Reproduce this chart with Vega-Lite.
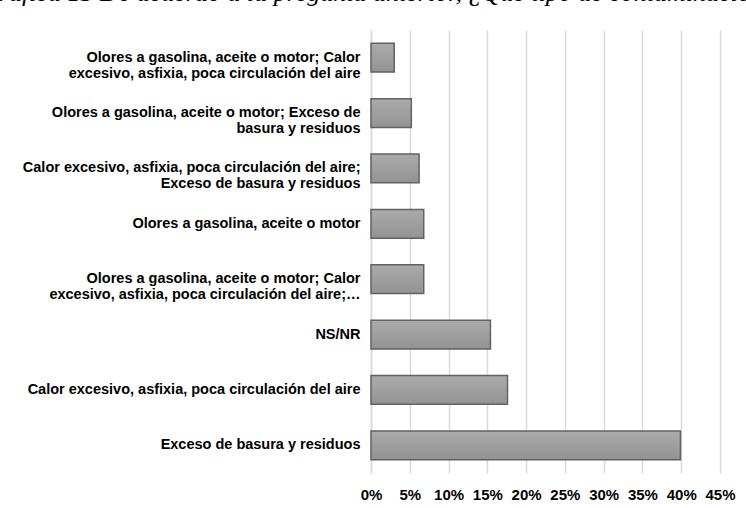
{
  "$schema": "https://vega.github.io/schema/vega-lite/v6.json",
  "autosize": {"type": "none"},
  "width": 349,
  "height": 443,
  "padding": {"left": 371, "top": 30, "right": 26, "bottom": 35},
  "background": "white",
  "title": {
    "text": "Gráfica 13 De acuerdo a la pregunta anterior, ¿Qué tipo de contaminación",
    "font": "Liberation Serif",
    "fontStyle": "italic",
    "fontWeight": "normal",
    "fontSize": 26,
    "color": "black",
    "anchor": "start",
    "frame": "group",
    "orient": "top",
    "baseline": "alphabetic",
    "offset": 3,
    "dx": -391,
    "dy": 0
  },
  "data": {
    "values": [
      {"tipo": "Olores a gasolina, aceite o motor; Calor\nexcesivo, asfixia, poca circulación del aire", "pct": 0.030},
      {"tipo": "Olores a gasolina, aceite o motor; Exceso de\nbasura y residuos", "pct": 0.052},
      {"tipo": "Calor excesivo, asfixia, poca circulación del aire;\nExceso de basura y residuos", "pct": 0.062},
      {"tipo": "Olores a gasolina, aceite o motor", "pct": 0.068},
      {"tipo": "Olores a gasolina, aceite o motor; Calor\nexcesivo, asfixia, poca circulación del aire;…", "pct": 0.068},
      {"tipo": "NS/NR", "pct": 0.154},
      {"tipo": "Calor excesivo, asfixia, poca circulación del aire", "pct": 0.176},
      {"tipo": "Exceso de basura y residuos", "pct": 0.399}
    ]
  },
  "mark": {
    "type": "bar",
    "color": {
      "gradient": "linear",
      "x1": 0, "y1": 0, "x2": 0, "y2": 1,
      "stops": [
        {"offset": 0, "color": "#ababab"},
        {"offset": 1, "color": "#939393"}
      ]
    },
    "stroke": "#626262",
    "strokeWidth": 1.5
  },
  "encoding": {
    "y": {
      "field": "tipo",
      "type": "nominal",
      "sort": null,
      "scale": {"paddingInner": 0.48, "paddingOuter": 0.24},
      "axis": {
        "title": null,
        "labelExpr": "split(datum.label, '\\n')",
        "labelFont": "Liberation Sans",
        "labelFontWeight": "bold",
        "labelFontSize": 14.5,
        "labelLineHeight": 16,
        "labelColor": "black",
        "labelLimit": 0,
        "labelPadding": 11,
        "ticks": false,
        "domain": true,
        "domainColor": "#d9d9d9",
        "domainWidth": 1.5,
        "grid": false
      }
    },
    "x": {
      "field": "pct",
      "type": "quantitative",
      "scale": {"domain": [0, 0.45], "nice": false},
      "axis": {
        "title": null,
        "values": [0, 0.05, 0.1, 0.15, 0.2, 0.25, 0.3, 0.35, 0.4, 0.45],
        "format": ".0%",
        "labelFont": "Liberation Sans",
        "labelFontWeight": "bold",
        "labelFontSize": 15,
        "labelColor": "black",
        "labelPadding": 14,
        "labelFlush": false,
        "ticks": false,
        "domain": false,
        "grid": true,
        "gridColor": "#d9d9d9",
        "gridWidth": 1.5
      }
    }
  },
  "config": {"view": {"stroke": null}}
}
